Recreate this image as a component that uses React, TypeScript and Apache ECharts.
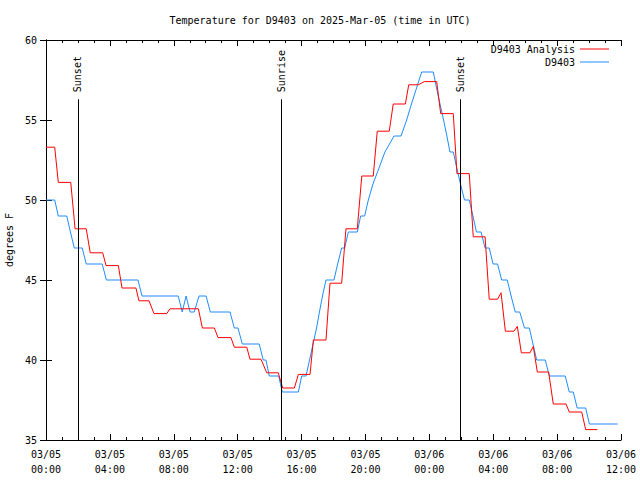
import React, { useEffect, useRef } from 'react';
import * as echarts from 'echarts';

const seriesNames = ['D9403 Analysis', 'D9403'];
const seriesColors = ['#ff0000', '#1e8cff'];

// hours since 03/05 00:00 UTC
const analysisTimes = [0, 0.545, 0.77, 1.55, 1.82, 2.52, 2.77, 3.55, 3.76, 4.53, 4.76, 5.63, 5.82, 6.45, 6.76, 7.56, 7.76, 9.54, 9.79, 10.54, 10.77, 11.58, 11.79, 12.57, 12.77, 13.46, 13.82, 14.54, 14.82, 15.55, 15.8, 16.53, 16.74, 17.53, 17.78, 18.51, 18.78, 19.49, 19.77, 20.49, 20.74, 21.49, 21.74, 22.5, 22.71, 23.31, 23.69, 24.46, 24.71, 25.5, 25.73, 26.5, 26.75, 27.49, 27.75, 28.27, 28.49, 28.76, 29.3, 29.51, 29.76, 30.3, 30.51, 30.76, 31.47, 31.76, 32.56, 32.76, 33.54, 33.79, 34.52];
const analysisValues = [53.3, 53.3, 51.1, 51.1, 48.2, 48.2, 46.7, 46.7, 45.9, 45.9, 44.5, 44.5, 43.7, 43.7, 42.9, 42.9, 43.2, 43.2, 42.0, 42.0, 41.4, 41.4, 40.8, 40.8, 40.05, 40.05, 39.2, 39.2, 38.25, 38.25, 39.1, 39.1, 41.25, 41.25, 44.8, 44.8, 48.2, 48.2, 51.5, 51.5, 54.3, 54.3, 56.0, 56.0, 57.2, 57.2, 57.4, 57.4, 55.4, 55.4, 51.65, 51.65, 47.7, 47.7, 43.8, 43.8, 44.2, 41.8, 41.8, 42.1, 40.45, 40.45, 40.85, 39.25, 39.25, 37.25, 37.25, 36.75, 36.75, 35.65, 35.65];

const obsTimes = [0, 0.545, 0.77, 1.3, 1.53, 1.77, 2.27, 2.52, 3.52, 3.78, 5.76, 6.01, 8.28, 8.53, 8.77, 9.02, 9.28, 9.58, 10.02, 10.29, 11.52, 11.79, 12.02, 12.29, 13.35, 13.6, 13.77, 13.98, 14.57, 14.79, 15.8, 16.01, 16.28, 16.5, 16.72, 16.94, 17.12, 17.31, 17.53, 18.03, 18.26, 18.51, 18.7, 18.93, 19.49, 19.7, 19.95, 20.18, 20.47, 20.85, 21.22, 21.79, 22.23, 22.58, 22.88, 23.2, 23.52, 24.25, 24.45, 24.67, 24.89, 25.1, 25.29, 25.5, 25.72, 25.95, 26.2, 26.5, 26.73, 26.95, 27.24, 27.49, 27.75, 27.99, 28.27, 28.53, 28.88, 29.12, 29.38, 29.66, 29.96, 30.26, 30.49, 30.72, 31.26, 31.51, 32.51, 32.76, 33.01, 33.26, 33.79, 34.02, 35.79];
const obsValues = [50, 50, 49, 49, 48, 47, 47, 46, 46, 45, 45, 44, 44, 43, 44, 43, 43, 44, 44, 43, 43, 42, 42, 41, 41, 40, 40, 39, 39, 38, 38, 39, 39, 40, 41, 42, 43, 44, 45, 45, 46, 47, 47, 48, 48, 49, 49, 50, 51, 52, 53, 54, 54, 55, 56, 57, 58, 58, 57, 56, 55, 54, 53, 53, 52, 51, 50, 50, 49, 48, 48, 47, 47, 46, 46, 45, 45, 44, 43, 43, 42, 42, 41, 40, 40, 39, 39, 38, 38, 37, 37, 36, 36];

const eventTimes = [2.0, 14.75, 25.96];
const eventNames = ['Sunset', 'Sunrise', 'Sunset'];
const eventLineTop = 56.3;

const xTickLabels = ['03/05\n00:00', '03/05\n04:00', '03/05\n08:00', '03/05\n12:00', '03/05\n16:00', '03/05\n20:00', '03/06\n00:00', '03/06\n04:00', '03/06\n08:00', '03/06\n12:00'];
const xMin = 0, xMax = 36, xStep = 4;
const yMin = 35, yMax = 60, yStep = 5;

const FONT = 'DejaVu Sans Mono';

export default function App() {
  const ref = useRef<HTMLDivElement>(null);
  useEffect(() => {
    if (!ref.current) return;
    const chart = echarts.init(ref.current, undefined, { renderer: 'svg' });
    const pairs = (t: number[], v: number[]) => t.map((x, i) => [x, v[i]]);
    const text = { color: '#000', fontFamily: FONT, fontSize: 10 };
    const baseX = {
      type: 'value', min: xMin, max: xMax, interval: xStep,
      axisLine: { show: true, lineStyle: { color: '#000', width: 1 } },
      axisTick: { show: true, inside: true, length: 6, lineStyle: { color: '#000' } },
      minorTick: { show: true, splitNumber: 4, length: 3, lineStyle: { color: '#000' } },
      splitLine: { show: false },
    };
    const baseY = {
      type: 'value', min: yMin, max: yMax, interval: yStep,
      axisLine: { show: true, lineStyle: { color: '#000', width: 1 } },
      axisTick: { show: true, inside: true, length: 6, lineStyle: { color: '#000' } },
      splitLine: { show: false },
    };
    chart.setOption({
      animation: false,
      backgroundColor: '#fff',
      title: {
        text: 'Temperature for D9403 on 2025-Mar-05 (time in UTC)',
        left: 'center', top: 10,
        textStyle: { ...text, fontWeight: 'normal' },
      },
      legend: seriesNames.map((n, i) => ({
        data: [n], right: 31, top: 44 + i * 13, align: 'right', icon: 'rect',
        itemWidth: 29, itemHeight: 1, itemGap: 0, padding: 0,
        textStyle: { ...text },
      })),
      grid: { left: 46, top: 40, width: 575, height: 400, containLabel: false, outerBoundsMode: 'none' },
      xAxis: [
        {
          ...baseX, position: 'bottom',
          axisLabel: {
            ...text, margin: 7, lineHeight: 15,
            formatter: (v: number) => xTickLabels[Math.round((v - xMin) / xStep)] ?? '',
          },
        },
        { ...baseX, position: 'top', axisLabel: { show: false } },
      ],
      yAxis: [
        {
          ...baseY, position: 'left', name: 'degrees F', nameLocation: 'middle', nameGap: 31,
          nameTextStyle: { ...text },
          axisLabel: { ...text, margin: 9 },
        },
        { ...baseY, position: 'right', axisLabel: { show: false } },
      ],
      series: [
        {
          name: seriesNames[0], type: 'line', data: pairs(analysisTimes, analysisValues),
          showSymbol: false, symbol: 'none', color: seriesColors[0],
          lineStyle: { width: 1, color: seriesColors[0] },
          markLine: {
            silent: true, symbol: ['none', 'none'], label: { show: false },
            lineStyle: { color: '#000', width: 1, type: 'solid' },
            data: eventTimes.map((t) => [{ coord: [t, yMin] }, { coord: [t, eventLineTop] }]),
          },
          z: 3,
        },
        {
          name: seriesNames[1], type: 'line', data: pairs(obsTimes, obsValues),
          showSymbol: false, symbol: 'none', color: seriesColors[1],
          lineStyle: { width: 1, color: seriesColors[1] },
          z: 2,
        },
      ],
    });
    const topPx = chart.convertToPixel({ yAxisIndex: 0 }, eventLineTop) as number;
    chart.setOption({
      graphic: eventTimes.map((t, i) => ({
        type: 'text',
        x: chart.convertToPixel({ xAxisIndex: 0 }, t) as number,
        y: topPx - 7,
        rotation: Math.PI / 2,
        style: {
          text: eventNames[i], fill: '#000', font: `10px "${FONT}"`,
          textAlign: 'left', textVerticalAlign: 'middle',
        },
      })),
    });
    return () => chart.dispose();
  }, []);
  return <div ref={ref} style={{ position: 'absolute', left: 0, top: 0, width: 640, height: 480, background: '#fff' }} />;
}
